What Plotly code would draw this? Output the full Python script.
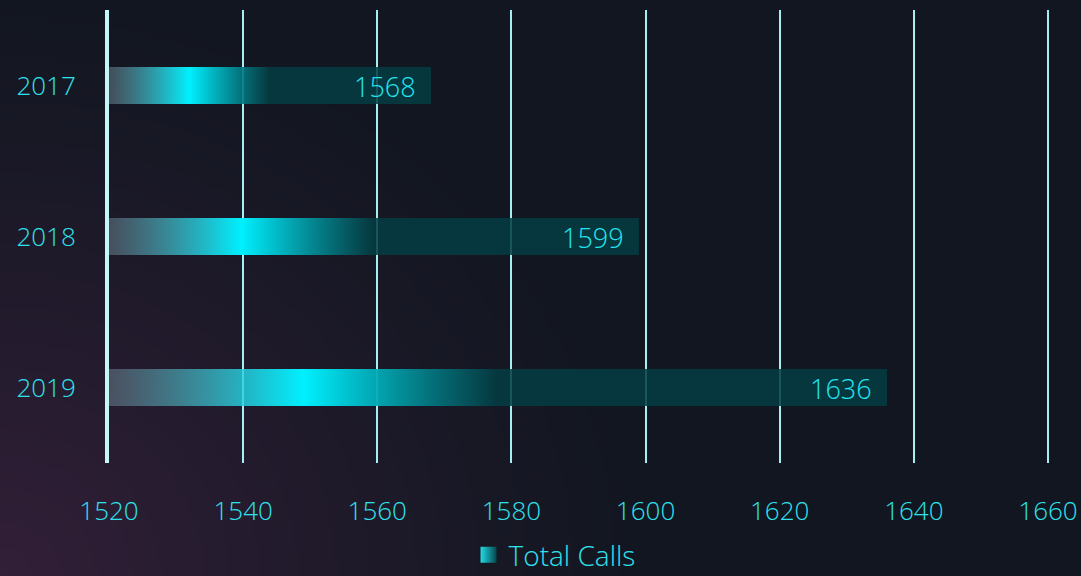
import base64, struct, zlib
import plotly.graph_objects as go

# ---- data ----
years = ["2017", "2018", "2019"]
total_calls = [1568, 1599, 1636]
x_ticks = [1520, 1540, 1560, 1580, 1600, 1620, 1640, 1660]
axis_min = 1520
series_name = "Total Calls"

# ---- background gradient image (decorative) ----
def make_bg(w=216, h=115):
    navy = (17, 22, 32)
    purple = (50, 31, 56)
    rows = []
    for j in range(h):
        row = bytearray([0])
        for i in range(w):
            px = i / (w - 1) * 1081
            py = (1 - j / (h - 1)) * 576
            d = (px ** 2 + (py * 1.1) ** 2) ** 0.5 / 680
            t = max(0.0, 1 - d) ** 1.2
            row += bytes(int(round(navy[k] + t * (purple[k] - navy[k]))) for k in range(3))
        rows.append(bytes(row))
    raw = b"".join(rows)
    def chunk(tag, data):
        c = struct.pack(">I", len(data)) + tag + data
        return c + struct.pack(">I", zlib.crc32(tag + data) & 0xFFFFFFFF)
    png = b"\x89PNG\r\n\x1a\n" + chunk(b"IHDR", struct.pack(">IIBBBBB", w, h, 8, 2, 0, 0, 0)) \
        + chunk(b"IDAT", zlib.compress(raw, 9)) + chunk(b"IEND", b"")
    return "data:image/png;base64," + base64.b64encode(png).decode()

FONT = "Open Sans"
TEXT_C = "#2ee2ee"
half = 0.1225

grad = [
    [0.0, "rgba(120,145,158,0.45)"],
    [0.25, "rgba(0,240,255,1)"],
    [0.5, "rgba(3,60,66,0.86)"],
    [1.0, "rgba(3,60,66,0.86)"],
]

fig = go.Figure()
for i, (yr, v) in enumerate(zip(years, total_calls)):
    fig.add_trace(go.Scatter(
        x=[axis_min, v, v, axis_min, axis_min],
        y=[i - half, i - half, i + half, i + half, i - half],
        mode="lines", line=dict(width=0, color="rgba(0,0,0,0)"),
        fill="toself",
        fillgradient=dict(type="horizontal", colorscale=grad, start=axis_min, stop=v),
        name=series_name, legendgroup="tc", showlegend=False,
        hoverinfo="skip",
    ))
    fig.add_annotation(x=v, y=i, text=str(v), showarrow=False, xanchor="right",
                       xshift=-13, yshift=-1,
                       font=dict(family=FONT, size=27, color="#24e4f0", weight=300))

# legend entry (gradient swatch)
fig.add_trace(go.Scatter(
    x=[None], y=[None], mode="markers", name=series_name, legendgroup="tc",
    marker=dict(symbol="square", size=16, color="#22dbe6",
                gradient=dict(type="horizontal", color="#05464c"),
                line=dict(width=0)),
))

fig.update_layout(
    width=1081, height=576,
    margin=dict(l=109, r=31, t=10, b=113, autoexpand=False),
    paper_bgcolor="#11161f",
    plot_bgcolor="rgba(0,0,0,0)",
    font=dict(family=FONT, color=TEXT_C, weight=300),
    showlegend=True,
    legend=dict(orientation="h", x=0.513, xanchor="center", xref="container",
                y=-0.203, yanchor="middle", yref="paper",
                font=dict(size=28, color=TEXT_C, family=FONT, weight=300),
                bgcolor="rgba(0,0,0,0)", itemwidth=30),
    xaxis=dict(range=[1520, 1660.3], tickvals=x_ticks, showgrid=True, automargin=False,
               gridcolor="#a6eef2", gridwidth=2, zeroline=False, showline=False,
               ticks="", ticklabelstandoff=30,
               tickfont=dict(size=26, color=TEXT_C, family=FONT, weight=300)),
    yaxis=dict(range=[2.5, -0.5], tickvals=list(range(len(years))), ticktext=years,
               showgrid=False, zeroline=False, showline=True, linecolor="#c4f7f8",
               linewidth=4, ticks="", ticklabelstandoff=24, automargin=False,
               tickfont=dict(size=26, color=TEXT_C, family=FONT, weight=300)),
    images=[dict(source=make_bg(), xref="paper", yref="paper",
                 x=-109 / 941, y=1 + 10 / 453, sizex=1081 / 941, sizey=576 / 453,
                 sizing="stretch", layer="below", xanchor="left", yanchor="top")],
)

fig.write_html("out.html", config={"displayModeBar": False},
               post_script="document.body.style.margin='0';")
